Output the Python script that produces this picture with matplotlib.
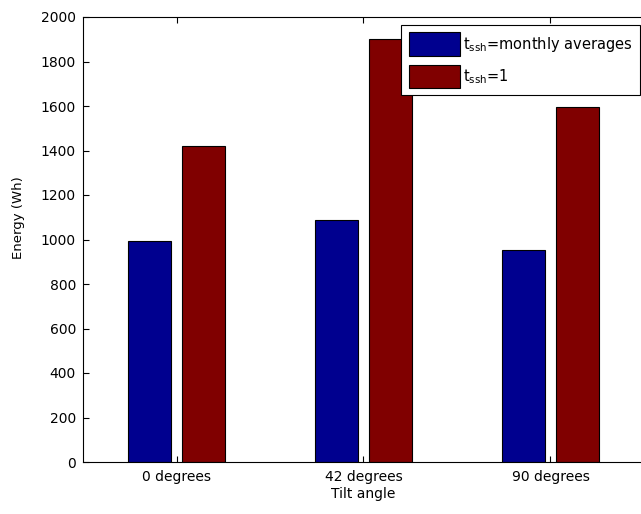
import matplotlib
matplotlib.use("Agg")
import matplotlib.pyplot as plt
import numpy as np

plt.rcParams['font.family'] = ['DejaVu Sans']
plt.rcParams['mathtext.default'] = 'regular'
plt.rcParams['mathtext.fontset'] = 'dejavusans'
plt.rcParams['font.size'] = 10

# energy per tilt angle for the two sunshine-hour assumptions
angles = ['0 degrees', '42 degrees', '90 degrees']
energy_monthly = [993, 1088, 953]
energy_one = [1420, 1901, 1596]
series_labels = ['t$_{ssh}$=monthly averages', 't$_{ssh}$=1']

fig = plt.figure(figsize=(6.41, 5.14), dpi=100)
ax = fig.add_axes([83 / 641, 52 / 514, 561 / 641, 445 / 514])

x = np.arange(1, len(angles) + 1)
w = 0.23
off = 0.142
ax.bar(x - off, energy_monthly, w, color='#00008f', edgecolor='black',
       linewidth=0.8, label=series_labels[0])
ax.bar(x + off, energy_one, w, color='#800000', edgecolor='black',
       linewidth=0.8, label=series_labels[1])

ax.set_xlim(0.5, 3.5)
ax.set_ylim(0, 2000)
ax.set_yticks(np.arange(0, 2001, 200))
ax.set_xticks(x)
ax.set_xticklabels(angles)
ax.tick_params(direction='in', length=4, width=0.8, top=True, right=False,
               labelsize=10, pad=6)
ax.tick_params(axis='y', pad=5)
for s in ax.spines.values():
    s.set_linewidth(0.8)

ax.set_xlabel('Tilt angle', fontsize=10, labelpad=2)
ax.set_ylabel('Energy (Wh)', fontsize=9.5)
ax.yaxis.set_label_coords(-0.104, 0.55)

leg = ax.legend(loc='upper right', bbox_to_anchor=(557 / 561, 1 - 8 / 445),
                fontsize=10.5, handlelength=3.55, handleheight=2.1,
                fancybox=False, framealpha=1, edgecolor='black',
                borderpad=0.5, labelspacing=0.6, handletextpad=0.2,
                borderaxespad=0)
leg.get_frame().set_linewidth(0.8)

fig.savefig('out.png', dpi=100)
